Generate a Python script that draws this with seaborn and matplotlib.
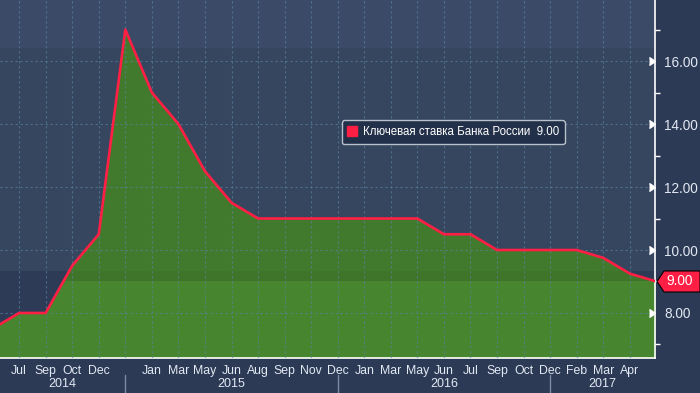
import numpy as np
import matplotlib
matplotlib.use('Agg')
import matplotlib.pyplot as plt
import matplotlib.transforms as mtransforms
from matplotlib.lines import Line2D
from matplotlib.patches import Polygon
import seaborn as sns

# one tick per observation on the evenly spaced axis
month_labels = ['Jul', 'Sep', 'Oct', 'Dec', '', 'Jan', 'Mar', 'May', 'Jun',
                'Aug', 'Sep', 'Nov', 'Dec', 'Jan', 'Mar', 'May', 'Jun', 'Jul',
                'Sep', 'Oct', 'Dec', 'Feb', 'Mar', 'Apr']
years = ['2014', '2015', '2016', '2017']
year_breaks = [4, 12, 20]

# key rate; first and last values sit just outside the visible window
rate = [7.5, 8.0, 8.0, 9.5, 10.5, 17.0, 15.0, 14.0, 12.5, 11.5,
        11.0, 11.0, 11.0, 11.0, 11.0, 11.0, 11.0,
        10.5, 10.5, 10.0, 10.0, 10.0, 10.0, 9.75, 9.25, 9.0]
series_name = 'Ключевая ставка Банка России'

sns.set_style('dark')
plt.rcParams['font.family'] = ['Liberation Sans', 'DejaVu Sans']

x = np.arange(len(rate)) - 1
y = np.array(rate)
xlim = (-0.72, 23.95)
ylim = (6.57, 17.94)

fig = plt.figure(figsize=(7, 3.93), dpi=100, facecolor='#2c3a56')
ax = fig.add_axes([0, 35 / 393, 655 / 700, 358 / 393])
ax.set_xlim(*xlim)
ax.set_ylim(*ylim)

# background bands
ax.set_facecolor('#2d3b57')
ax.axhspan(9.33, 16.41, color='#36465f', lw=0, zorder=0)
ax.axhspan(16.41, ylim[1], color='#3b4b67', lw=0, zorder=0)

# area under the curve
area = ax.fill_between(x, ylim[0], y, color='#48852f', lw=0, zorder=1)
clip = area.get_paths()[0]
for lo, hi, c in [(9.0, 9.33, '#3f752a'), (9.33, ylim[1], '#427a2d')]:
    band = ax.axhspan(lo, hi, color=c, lw=0, zorder=1.1)
    band.set_clip_path(clip, ax.transData)

sns.lineplot(x=x, y=y, color='#ff1f45', lw=1.9, ax=ax, zorder=3)

# grid and axes
ax.set_axisbelow(False)
ax.grid(True, which='major', color='#5a82a0', ls=(0, (2, 2.5)), lw=0.8, alpha=0.7)
for s in ['left', 'top']:
    ax.spines[s].set_visible(False)
for s in ['right', 'bottom']:
    ax.spines[s].set_color('white')
    ax.spines[s].set_linewidth(1.2)

ax.set_xticks(np.arange(len(month_labels)), month_labels)
ax.tick_params(axis='x', colors='white', length=3, width=1, direction='out',
               labelcolor='#e3e9f2', labelsize=8.8, pad=2)

ax.yaxis.tick_right()
ax.set_yticks([8, 10, 12, 14, 16])
ax.set_yticks(np.arange(7, 18, 2), minor=True)
ax.yaxis.set_major_formatter('{x:.2f}')
ax.tick_params(axis='y', which='major', colors='white', labelcolor='#e3e9f2',
               labelsize=9.8, length=5, width=1, pad=1.5, direction='out')
ax.tick_params(axis='y', which='minor', colors='white', length=3.5, width=1,
               direction='out')
for t in ax.yaxis.get_major_ticks():
    t.tick2line.set_marker(5)
    t.tick2line.set_markersize(6)
ax.set_xlabel('')
ax.set_ylabel('')

# year row
trans = mtransforms.blended_transform_factory(ax.transData, fig.transFigure)
edges = [xlim[0]] + year_breaks + [xlim[1]]
for i, yr in enumerate(years):
    ax.text((edges[i] + edges[i + 1]) / 2, 0.023, yr, transform=trans,
            ha='center', va='center', color='#e3e9f2', fontsize=9)
for b in year_breaks:
    fig.add_artist(Line2D([b, b], [0, 0.046], transform=trans,
                          color='#7d8aa0', lw=1))

# legend
handle = Line2D([], [], marker='s', ls='', color='#ff1f45', markersize=7)
leg = ax.legend([handle], [f'{series_name}  {rate[-1]:.2f}'], loc='center',
                bbox_to_anchor=(0.692, 0.631), frameon=True, fancybox=True,
                facecolor='#233049', edgecolor='#b8c0cc', framealpha=1,
                fontsize=8.3, labelcolor='white', handlelength=0.8,
                handletextpad=0.5, borderpad=0.5, borderaxespad=0)
leg.get_frame().set_linewidth(1)

# last value tag
ax_x, ax_y = mtransforms.blended_transform_factory(
    ax.transAxes, ax.transData).transform((1, rate[-1]))
h = 10.5
tag = Polygon([(ax_x + 2, ax_y), (ax_x + 9, ax_y + h), (700, ax_y + h),
               (700, ax_y - h), (ax_x + 9, ax_y - h)], closed=True,
              transform=mtransforms.IdentityTransform(),
              facecolor='#ff1f45', edgecolor='black', lw=0.8)
fig.add_artist(tag)
fig.text((ax_x + 11) / 700, ax_y / 393, f'{rate[-1]:.2f}', ha='left',
         va='center', color='white', fontsize=9.8)

fig.savefig('out.png', dpi=100, facecolor=fig.get_facecolor())
